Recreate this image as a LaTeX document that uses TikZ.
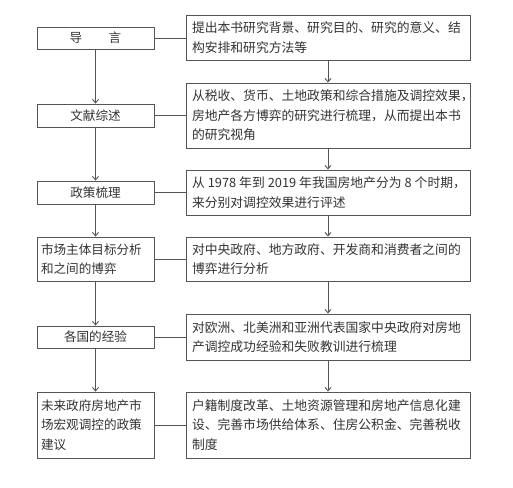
\documentclass[tikz,border=0pt]{standalone}
\usepackage{fontspec}
\setmainfont{Noto Sans CJK SC}
\usetikzlibrary{arrows.meta}
\definecolor{ln}{HTML}{555555}
\definecolor{tx}{HTML}{333333}
\newcommand{\nsp}{\hspace{3pt}}
\tikzset{
  lbox/.style={draw=ln, line width=0.9pt, text=tx, minimum width=117pt, inner xsep=4pt, inner ysep=0pt,
    font=\fontsize{12.6pt}{19.5pt}\selectfont},
  rbox/.style={draw=ln, line width=0.9pt, text=tx, text width=272pt, inner xsep=6pt, inner ysep=0pt, align=left,
    font=\fontsize{12.8pt}{19.5pt}\selectfont},
  conn/.style={draw=ln, line width=0.9pt},
  arr/.style={conn, -{Straight Barb[length=3.5pt,width=6pt]}}
}
\begin{document}
\begin{tikzpicture}[x=1pt,y=-1pt]
\useasboundingbox (0,0) rectangle (513,487);
\fill[white] (0,0) rectangle (513,487);
% left column
\node[lbox, minimum height=22pt] (L1) at (95.5,38) {导\hspace{2.1em}言};
\node[lbox, minimum height=23pt] (L2) at (95.5,115.5) {文献综述};
\node[lbox, minimum height=23pt] (L3) at (95.5,192.5) {政策梳理};
\node[lbox, minimum height=44pt, text width=109pt, align=left] (L4) at (95.5,259) {市场主体目标分析\\和之间的博弈};
\node[lbox, minimum height=22pt] (L5) at (95.5,337) {各国的经验};
\node[lbox, minimum height=66pt, text width=109pt, align=left] (L6) at (95.5,425) {未来政府房地产市\\场宏观调控的政策\\建议};
% right column
\node[rbox, minimum height=45pt] (R1) at (328,37.5) {提出本书研究背景、研究目的、研究的意义、结\\构安排和研究方法等};
\node[rbox, minimum height=65pt] (R2) at (328,115.5) {从税收、货币、土地政策和综合措施及调控效果，\\房地产各方博弈的研究进行梳理，从而提出本书\\的研究视角};
\node[rbox, minimum height=45pt] (R3) at (328,192.5) {\mbox{从\nsp{}1978\nsp{}年到\nsp{}2019\nsp{}年我国房地产分为\nsp{}8\nsp{}个时期，}\\来分别对调控效果进行评述};
\node[rbox, minimum height=44pt] (R4) at (328,259) {对中央政府、地方政府、开发商和消费者之间的\\博弈进行分析};
\node[rbox, minimum height=46pt] (R5) at (328,337) {对欧洲、北美洲和亚洲代表国家中央政府对房地\\产调控成功经验和失败教训进行梳理};
\node[rbox, minimum height=66pt] (R6) at (328,425) {户籍制度改革、土地资源管理和房地产信息化建\\设、完善市场供给体系、住房公积金、完善税收\\制度};
% horizontal links
\foreach \i in {1,...,6} { \draw[conn] (L\i.east) -- (L\i.east -| R\i.west); }
% vertical arrows
\foreach \a/\b in {1/2,2/3,3/4,4/5,5/6} {
  \draw[arr] (L\a.south) -- (L\b.north);
  \draw[arr] (R\a.south) -- (R\b.north);
}
\end{tikzpicture}
\end{document}
